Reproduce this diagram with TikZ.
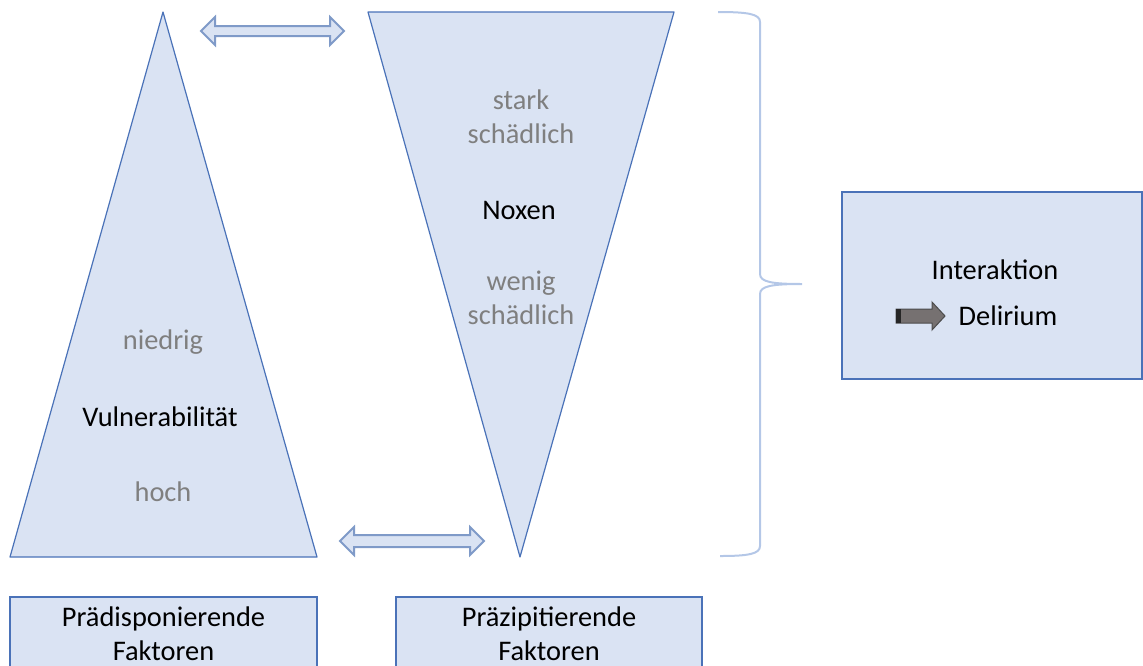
\documentclass[tikz,border=0pt]{standalone}
\usepackage{fontspec}
\setmainfont{Carlito}
\usetikzlibrary{positioning}
\definecolor{paleblue}{HTML}{DAE3F3}
\definecolor{edgeblue}{HTML}{4A72B8}
\definecolor{arrowblue}{HTML}{7F9AC8}
\definecolor{braceblue}{HTML}{B4C7E7}
\definecolor{softgray}{HTML}{7F7F7F}
\definecolor{arrowgray}{HTML}{767171}

\begin{document}
\begin{tikzpicture}[x=0.5pt, y=-0.5pt,
  font=\fontsize{14.2}{16.8}\selectfont,
  tri/.style={fill=paleblue, draw=edgeblue, line width=0.6pt, line join=round},
  box/.style={rectangle, fill=paleblue, draw=edgeblue, line width=0.6pt,
              align=center, inner sep=0pt},
  dbl/.style={fill=paleblue, draw=arrowblue, line width=1pt},
  lvl/.style={text=softgray, align=center},
  key/.style={text=black, align=center}
]
\useasboundingbox (0,0) rectangle (1143,665);
%% triangles
\draw[tri] (163,12) -- (317,557) -- (10,557) -- cycle;
\draw[tri] (368,12) -- (674,12) -- (520,557) -- cycle;
%% labels inside the triangles
\node[lvl] (v_low)  at (163,342) {niedrig};
\node[key] (v_main) at (160,417) {Vulnerabilität};
\node[lvl] (v_high) at (163,492) {hoch};
\node[lvl] (n_high) at (521,117) {stark\\schädlich};
\node[key] (n_main) at (519,210) {Noxen};
\node[lvl] (n_low)  at (521,298) {wenig\\schädlich};
%% double arrows between the triangles
\draw[dbl] (201,31) -- (215,17) -- (215,26) -- (330,26) -- (330,17) -- (344,31)
  -- (330,45) -- (330,36) -- (215,36) -- (215,45) -- cycle;
\draw[dbl] (340,541) -- (354,527) -- (354,535) -- (470,535) -- (470,527) -- (484,541)
  -- (470,555) -- (470,547) -- (354,547) -- (354,555) -- cycle;
%% brace
\draw[braceblue, line width=1pt]
  (718,12) .. controls (748,12) and (760,14) .. (760,22) -- (760,274)
  .. controls (760,282) and (772,284) .. (802,284)
  .. controls (772,284) and (760,286) .. (760,294) -- (760,546)
  .. controls (760,554) and (748,556) .. (720,556);
%% result box
\node[box, minimum width=150pt, minimum height=93.5pt] (res) at (992,285.5) {};
\node[key] (res_int) at (995,270) {Interaktion};
\node[key] (res_del) at (1008,316) {Delirium};
\draw[fill=arrowgray, draw=black!70, line width=0.5pt]
  (896,309) -- (932,309) -- (932,302) -- (945,316) -- (932,330) -- (932,323)
  -- (896,323) -- cycle;
\fill[black!85] (896,309) rectangle (901,323);
%% factor boxes
\node[box, minimum width=153.5pt, minimum height=37pt] (f_pre) at (163.5,634)
  {Prädisponierende\\Faktoren};
\node[box, minimum width=153pt, minimum height=37pt] (f_pra) at (549,634)
  {Präzipitierende\\Faktoren};
\end{tikzpicture}
\end{document}
